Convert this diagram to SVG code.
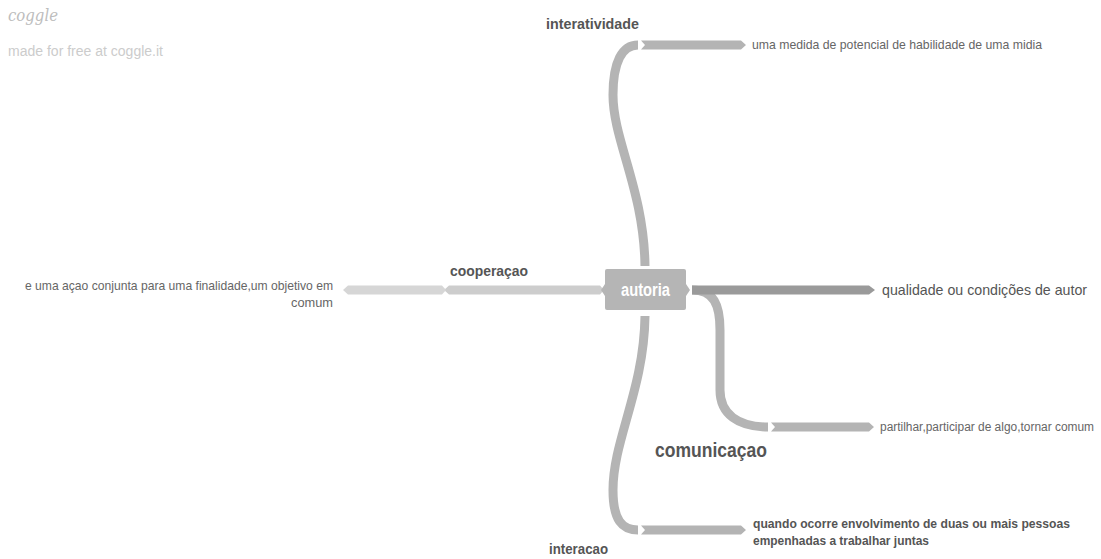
<svg xmlns="http://www.w3.org/2000/svg" width="1101" height="559" viewBox="0 0 1101 559">
<style>
.t{font-family:"Liberation Sans",Arial,sans-serif;fill:#666}
.b{font-weight:bold;fill:#555}
.curve{fill:none;stroke:#b4b4b4;stroke-width:9;stroke-linecap:butt}
.bar{fill:#b4b4b4}
</style>
<rect width="1101" height="559" fill="#ffffff"/>
<text x="8" y="21" font-family="'DejaVu Serif',serif" font-style="italic" font-size="17" fill="#bdbdbd" textLength="50" lengthAdjust="spacingAndGlyphs">coggle</text>
<text class="t" x="8" y="56" font-size="14" style="fill:#cccccc" textLength="155" lengthAdjust="spacingAndGlyphs">made for free at coggle.it</text>
<g id="connectors">
  <!-- top: interatividade -->
  <path class="curve" d="M645,266 C644,190 613,140 613,95 C613,62 622,45 638,45"/>
  <polygon class="bar" points="641,40.5 741,40.5 746,45 741,49.5 641,49.5 645,45"/>
  <!-- bottom: interacao -->
  <path class="curve" d="M645,316 C644,390 613,440 613,490 C613,520 622,530 638,530"/>
  <polygon class="bar" points="641,525.5 741,525.5 746,530 741,534.5 641,534.5 645,530"/>
  <!-- comunicacao -->
  <path class="curve" d="M692,290 C714,290 720,305 720,330 L720,390 C720,414 738,427 768,427"/>
  <polygon class="bar" points="771,422.5 869,422.5 874,427 869,431.5 771,431.5 775,427"/>
  <!-- right: qualidade -->
  <polygon fill="#9a9a9a" points="692,285.5 869,285.5 875,290 869,294.5 692,294.5"/>
  <!-- left: cooperacao -->
  <polygon fill="#cdcdcd" points="600,285.5 449,285.5 444,290 449,294.5 600,294.5 604,290"/>
  <polygon fill="#d6d6d6" points="442,285.5 348,285.5 343,290 348,294.5 442,294.5 446,290"/>
</g>
<g id="autoria">
  <rect x="605" y="269" width="81" height="41" rx="2" fill="#b5b5b5"/>
  <polygon points="605,284 601,290 605,296" fill="#b5b5b5"/>
  <polygon points="686,284 690,290 686,296" fill="#b5b5b5"/>
  <text class="t" x="645.5" y="296" font-size="18" font-weight="bold" text-anchor="middle" style="fill:#ffffff" textLength="49" lengthAdjust="spacingAndGlyphs">autoria</text>
</g>
<g id="interatividade">
  <text class="t b" x="546" y="29" font-size="15" textLength="93" lengthAdjust="spacingAndGlyphs">interatividade</text>
</g>
<g id="medida">
  <text class="t" x="752" y="49" font-size="13" textLength="290" lengthAdjust="spacingAndGlyphs">uma medida de potencial de habilidade de uma midia</text>
</g>
<g id="cooperacao">
  <text class="t b" x="450" y="276" font-size="15" textLength="78" lengthAdjust="spacingAndGlyphs">cooperaçao</text>
</g>
<g id="acao">
  <text class="t" x="333" y="290" font-size="13" text-anchor="end" textLength="308" lengthAdjust="spacingAndGlyphs">e uma açao conjunta para uma finalidade,um objetivo em</text>
  <text class="t" x="333" y="307" font-size="13" text-anchor="end" textLength="42" lengthAdjust="spacingAndGlyphs">comum</text>
</g>
<g id="qualidade">
  <text class="t" x="882" y="295" font-size="15" style="fill:#555" textLength="205" lengthAdjust="spacingAndGlyphs">qualidade ou condições de autor</text>
</g>
<g id="partilhar">
  <text class="t" x="880" y="431" font-size="12" textLength="214" lengthAdjust="spacingAndGlyphs">partilhar,participar de algo,tornar comum</text>
</g>
<g id="comunicacao">
  <text class="t b" x="655" y="457" font-size="20" textLength="112" lengthAdjust="spacingAndGlyphs">comunicaçao</text>
</g>
<g id="quando">
  <text class="t b" x="753" y="528" font-size="13" textLength="317" lengthAdjust="spacingAndGlyphs">quando ocorre envolvimento de duas ou mais pessoas</text>
  <text class="t b" x="753" y="545" font-size="13" textLength="176" lengthAdjust="spacingAndGlyphs">empenhadas a trabalhar juntas</text>
</g>
<g id="interacao">
  <text class="t b" x="549" y="554" font-size="15" textLength="59" lengthAdjust="spacingAndGlyphs">interacao</text>
</g>
</svg>
